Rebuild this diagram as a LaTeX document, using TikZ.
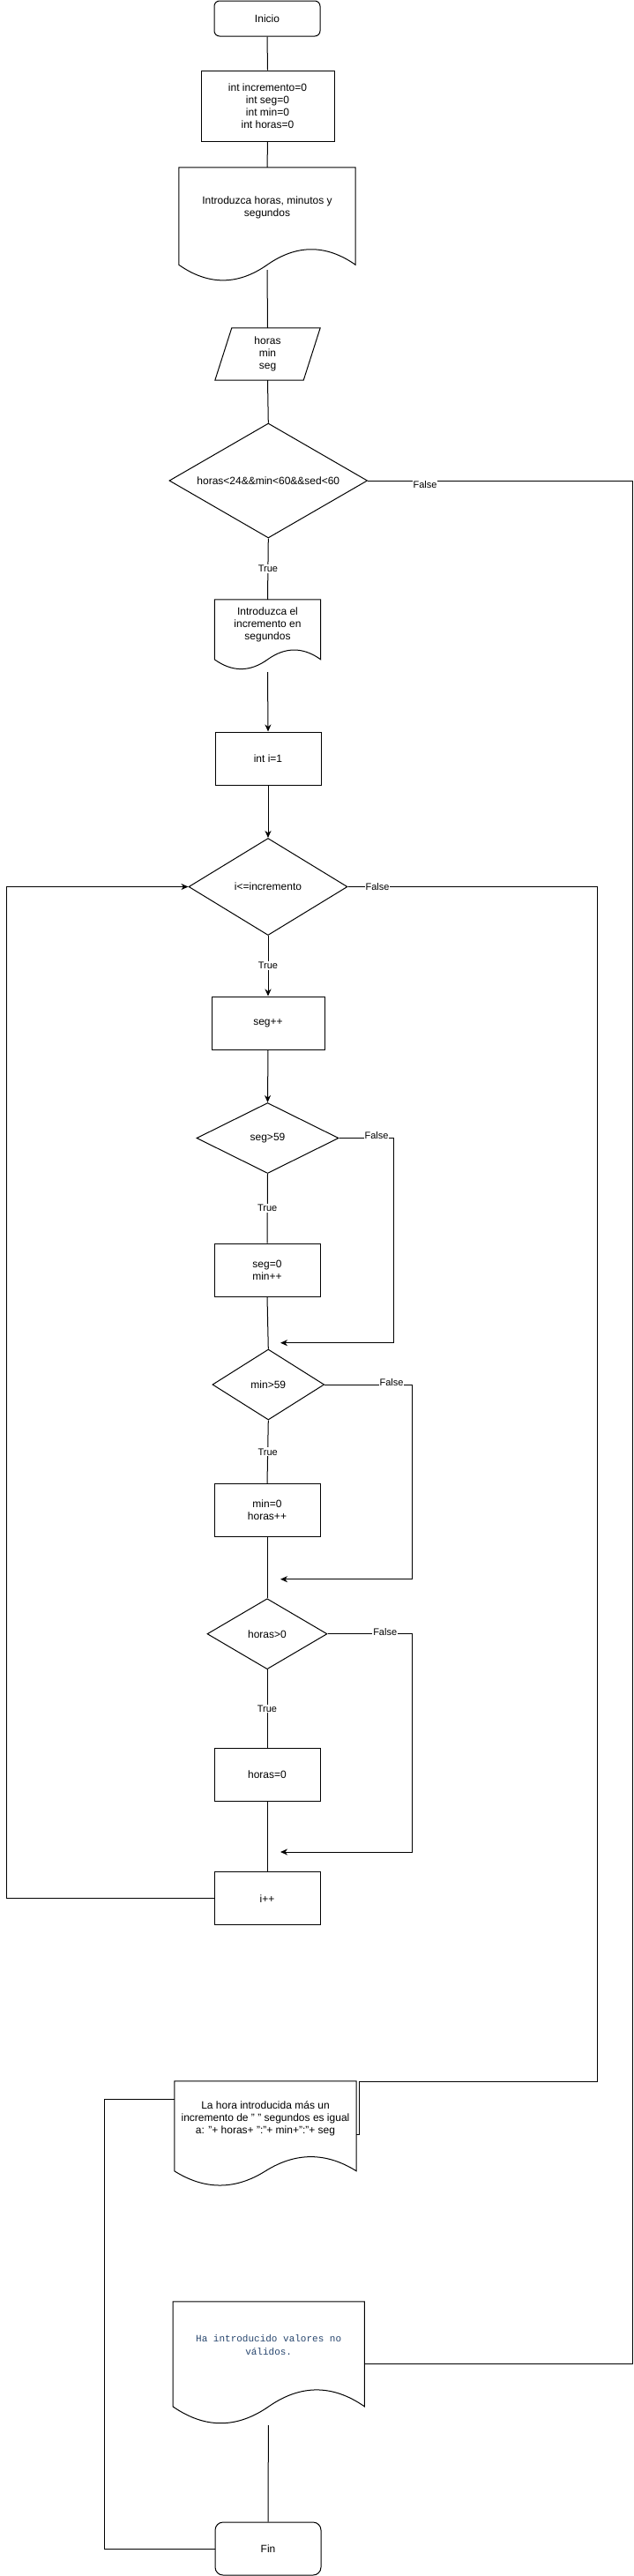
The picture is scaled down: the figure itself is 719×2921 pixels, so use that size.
\documentclass[tikz,border=0pt]{standalone}
\usepackage{fontspec}
\setmainfont{Liberation Sans}
\newfontfamily\monofont{Liberation Mono}
\usetikzlibrary{shapes.geometric,arrows.meta,calc}
\definecolor{monoblue}{RGB}{40,70,110}
\newcommand\docoutline[2]{%
  \draw[shp] let \p1=(#1.north west), \p2=(#1.north east), \n1={\x2-\x1}, \n2={#2} in
    (\x1,\y1) -- (\x2,\y1) -- (\x2,\y1-0.85*\n2)
    .. controls (\x1+0.8333*\n1,\y1-0.67*\n2) and (\x1+0.6667*\n1,\y1-0.67*\n2) .. (\x1+0.5*\n1,\y1-0.85*\n2)
    .. controls (\x1+0.3333*\n1,\y1-1.03*\n2) and (\x1+0.1667*\n1,\y1-1.03*\n2) .. (\x1,\y1-0.85*\n2) -- cycle;
}
\begin{document}
\begin{tikzpicture}[x=1pt,y=-1pt,
  shp/.style={draw=black,line width=1pt},
  txt/.style={font=\fontsize{12}{14}\selectfont,align=center,text=black},
  proc/.style={shp,txt,rectangle,minimum width=120pt,minimum height=60pt,inner sep=0pt},
  term/.style={proc,rounded corners=6pt},
  dec/.style={shp,txt,diamond,inner sep=0pt},
  doclab/.style={txt,rectangle,inner sep=0pt},
  conn/.style={line width=1pt,draw=black},
  arr/.style={conn,-{Stealth[length=8pt,width=7pt,inset=2.5pt]}},
  lbl/.style={fill=white,inner sep=1pt,font=\fontsize{11}{13}\selectfont,text=black},
]
\useasboundingbox (0,0) rectangle (719,2921);

% ---- nodes ----
\node[term,minimum height=40pt] (inicio) at (303,21) {Inicio};
\node[proc,minimum width=151pt,minimum height=80pt] (init) at (303.5,120)
  {int incremento=0\\int seg=0\\int min=0\\int horas=0};
\node[doclab,minimum width=200pt,minimum height=91pt] (doc1) at (303,235.5)
  {Introduzca horas, minutos y\\segundos};
\docoutline{doc1}{130}
\node[txt,rectangle,inner sep=0pt,minimum width=119pt,minimum height=59pt] (par) at (303.5,401.5)
  {horas\\min\\seg};
\draw[shp] ([xshift=19pt]par.north west) -- (par.north east) -- ([xshift=-19pt]par.south east) -- (par.south west) -- cycle;
\node[dec,minimum width=224.7pt,minimum height=130pt,aspect=1.73] (dia1) at (304.3,545)
  {horas<24\&\&min<60\&\&sed<60};
\node[doclab,minimum width=120pt,minimum height=56pt] (doc2) at (303.5,708)
  {Introduzca el\\incremento en\\segundos};
\docoutline{doc2}{80}
\node[proc] (i1) at (304,860) {int i=1};
\node[dec,minimum width=180pt,minimum height=110pt,aspect=1.64] (dia2) at (304,1005.5) {i<=incremento};
\node[proc,minimum width=128pt] (segpp) at (304,1160) {seg++};
\node[dec,minimum width=161pt,minimum height=80pt,aspect=2] (dia3) at (303.5,1290.5) {seg>59};
\node[proc] (seg0) at (303,1440) {seg=0\\min++};
\node[dec,minimum width=126.7pt,minimum height=80pt,aspect=1.58] (dia4) at (304.3,1570) {min>59};
\node[proc] (min0) at (303,1712.5) {min=0\\horas++};
\node[dec,minimum width=136pt,minimum height=80pt,aspect=1.7] (dia5) at (303,1852.7) {horas>0};
\node[proc] (h0) at (303,2012.5) {horas=0};
\node[proc] (ipp) at (303,2152.7) {i++};
\node[doclab,minimum width=206pt,minimum height=84pt] (doc3) at (301,2402)
  {La hora introducida más un\\incremento de " " segundos es igual\\a: "+ horas+ ":"+ min+":"+ seg};
\docoutline{doc3}{120}
\node[doclab,minimum width=217pt,minimum height=98pt,font=\monofont\fontsize{11}{15.5}\selectfont,text=monoblue] (doc4) at (304.7,2659)
  {Ha introducido valores no\\válidos.};
\docoutline{doc4}{140}
\node[term,rounded corners=9pt] (fin) at (304,2890) {Fin};

% ---- helper coordinates ----
\coordinate (d1out) at (303,306);
\coordinate (d2out) at (303.5,762);
\coordinate (d4out) at (304.4,2750);
\coordinate (rx) at (717,0);
\coordinate (lx) at (7,0);
\coordinate (lx2) at (118,0);
\coordinate (x2) at (677,0);
\coordinate (x3) at (446.7,0);
\coordinate (x4) at (467,0);
\coordinate (c2b) at (677,2360);
\coordinate (c2c) at (407.4,2360);
\coordinate (c2d) at (407.4,2420);
\coordinate (r3) at (318,1522.7);
\coordinate (r4) at (318,1790.7);
\coordinate (r5) at (318,2100);
\coordinate (d4in) at ([yshift=-21pt]doc4.east);
\coordinate (d3l) at ([yshift=22pt]doc3.west);

% ---- connectors ----
\draw[conn] (inicio.south) -- (init.north);
\draw[conn] (init.south) -- (doc1.north);
\draw[conn] (d1out) -- (par.north);
\draw[conn] (par.south) -- (dia1.north);
\draw[conn] (dia1.south) -- node[lbl] (t1) {True} (doc2.north);
\draw[arr] (d2out) -- (i1.north);
\draw[arr] (i1.south) -- (dia2.north);
\draw[arr] (dia2.south) -- node[lbl] (t2) {True} (segpp.north);
\draw[arr] (segpp.south) -- (dia3.north);
\draw[conn] (dia3.south) -- node[lbl] (t3) {True} (seg0.north);
\draw[conn] (seg0.south) -- (dia4.north);
\draw[conn] (dia4.south) -- node[lbl] (t4) {True} (min0.north);
\draw[conn] (min0.south) -- (dia5.north);
\draw[conn] (dia5.south) -- node[lbl] (t5) {True} (h0.north);
\draw[conn] (h0.south) -- (ipp.north);

\draw[arr] (ipp.west) -- (ipp.west -| lx) -- (dia2.west -| lx) -- (dia2.west);
\draw[arr] (dia3.east) -- (dia3.east -| x3) -- (x3 |- r3) -- (r3);
\draw[arr] (dia4.east) -- (dia4.east -| x4) -- (x4 |- r4) -- (r4);
\draw[arr] (dia5.east) -- (dia5.east -| x4) -- (x4 |- r5) -- (r5);
\draw[conn] (dia2.east) -- (dia2.east -| x2) -- (c2b) -- (c2c) -- (c2d) -- (c2d -| doc3.east);
\draw[conn] (dia1.east) -- (dia1.east -| rx) -- (rx |- d4in) -- (d4in);
\draw[conn] (d3l) -- (d3l -| lx2) -- (lx2 |- fin.west) -- (fin.west);
\draw[conn] (d4out) -- (fin.north);

% ---- False labels ----
\node[lbl] (f1) at (482,550) {False};
\node[lbl] (f2) at (428,1006) {False};
\node[lbl] (f3) at (427,1288) {False};
\node[lbl] (f4) at (444,1568) {False};
\node[lbl] (f5) at (436.7,1851) {False};
\end{tikzpicture}
\end{document}
